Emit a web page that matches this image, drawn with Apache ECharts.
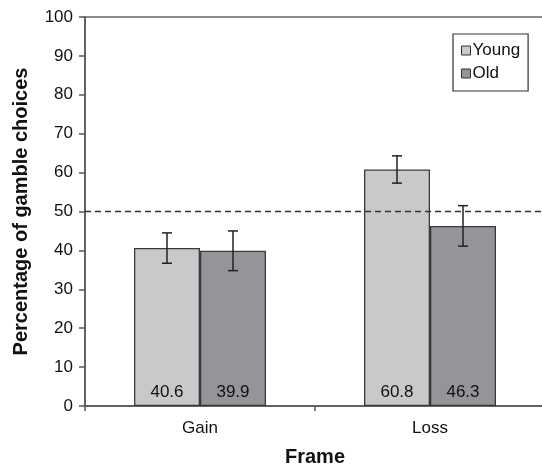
<!DOCTYPE html>
<html>
<head>
<meta charset="utf-8">
<script src="https://cdn.jsdelivr.net/npm/echarts@6/dist/echarts.min.js"></script>
<style>html,body{margin:0;padding:0;background:#fff}#c{width:542px;height:468px}</style>
</head>
<body>
<div id="c"></div>
<script>
var categories = ['Gain', 'Loss'];
var seriesNames = ['Young', 'Old'];
var youngValues = [40.6, 60.8];
var oldValues = [39.9, 46.3];
var youngErrors = [3.9, 3.5];
var oldErrors = [5.1, 5.2];
var referenceLevel = 50;
var yTicks = [0, 10, 20, 30, 40, 50, 60, 70, 80, 90, 100];

var BAR_W = 66;
var font = 'Liberation Sans, Arial, sans-serif';
var chart = echarts.init(document.getElementById('c'));

function errorSeries(values, errors, offset) {
  return {
    type: 'custom',
    z: 10,
    silent: true,
    data: values.map(function (v, i) { return [i, v - errors[i], v + errors[i]]; }),
    renderItem: function (params, api) {
      var lo = api.coord([api.value(0), api.value(1)]);
      var hi = api.coord([api.value(0), api.value(2)]);
      var x = lo[0] + offset;
      var cap = 5;
      var st = { stroke: '#222', lineWidth: 1.5 };
      return {
        type: 'group',
        children: [
          { type: 'line', shape: { x1: x, y1: hi[1], x2: x, y2: lo[1] }, style: st },
          { type: 'line', shape: { x1: x - cap, y1: hi[1], x2: x + cap, y2: hi[1] }, style: st },
          { type: 'line', shape: { x1: x - cap, y1: lo[1], x2: x + cap, y2: lo[1] }, style: st }
        ]
      };
    },
    encode: { x: 0, y: [1, 2] }
  };
}

var labelStyle = {
  show: true, position: 'insideBottom', distance: 5,
  color: '#111', fontSize: 17, fontFamily: font,
  formatter: function (p) { return p.value.toFixed(1); }
};

chart.setOption({
  animation: false,
  backgroundColor: '#fff',
  textStyle: { fontFamily: font },
  grid: { left: 85, top: 17, bottom: 62, right: -3, containLabel: false, outerBoundsMode: 'none',
    show: true, borderColor: '#666', borderWidth: 1.5, backgroundColor: 'transparent' },
  legend: {
    data: seriesNames,
    orient: 'vertical',
    left: 453, top: 34,
    itemWidth: 9, itemHeight: 9, itemGap: 6,
    padding: [8, 8, 9, 8],
    borderColor: '#333', borderWidth: 1.2,
    icon: 'rect',
    textStyle: { fontSize: 17, color: '#111', fontFamily: font, padding: [0, 0, 0, -3] },
    itemStyle: { borderColor: '#333', borderWidth: 1 }
  },
  xAxis: {
    type: 'category',
    data: categories,
    name: 'Frame', nameLocation: 'middle', nameGap: 41,
    nameTextStyle: { fontSize: 20, fontWeight: 'bold', color: '#111', fontFamily: font },
    axisLine: { lineStyle: { color: '#555', width: 1.5 } },
    axisTick: { show: true, length: 5, lineStyle: { color: '#555', width: 1.5 } },
    axisLabel: { fontSize: 17, color: '#111', margin: 14, fontFamily: font },
    splitLine: { show: false }
  },
  yAxis: {
    type: 'value', min: 0, max: 100, interval: 10,
    name: 'Percentage of gamble choices', nameLocation: 'middle', nameGap: 54,
    nameTextStyle: { fontSize: 20, fontWeight: 'bold', color: '#111', fontFamily: font },
    axisLine: { show: true, lineStyle: { color: '#555', width: 1.5 } },
    axisTick: { show: true, length: 6, lineStyle: { color: '#555', width: 1.5 } },
    axisLabel: { fontSize: 17, color: '#111', margin: 12, fontFamily: font,
      formatter: function (v) { return yTicks.indexOf(v) >= 0 ? String(v) : ''; } },
    splitLine: { show: false }
  },
  series: [
    {
      name: seriesNames[0], type: 'bar', data: youngValues, barWidth: BAR_W, barGap: '0%',
      itemStyle: { color: '#c8c9cb', borderColor: '#3a3a3a', borderWidth: 1.3 },
      label: labelStyle,
      markLine: {
        silent: true, symbol: 'none', label: { show: false },
        lineStyle: { color: '#333', type: [6, 4], width: 1.3 },
        data: [{ yAxis: referenceLevel }]
      }
    },
    {
      name: seriesNames[1], type: 'bar', data: oldValues, barWidth: BAR_W, barGap: '0%',
      itemStyle: { color: '#939598', borderColor: '#3a3a3a', borderWidth: 1.3 },
      label: labelStyle
    },
    errorSeries(youngValues, youngErrors, -BAR_W / 2),
    errorSeries(oldValues, oldErrors, BAR_W / 2)
  ]
});
</script>
</body>
</html>
